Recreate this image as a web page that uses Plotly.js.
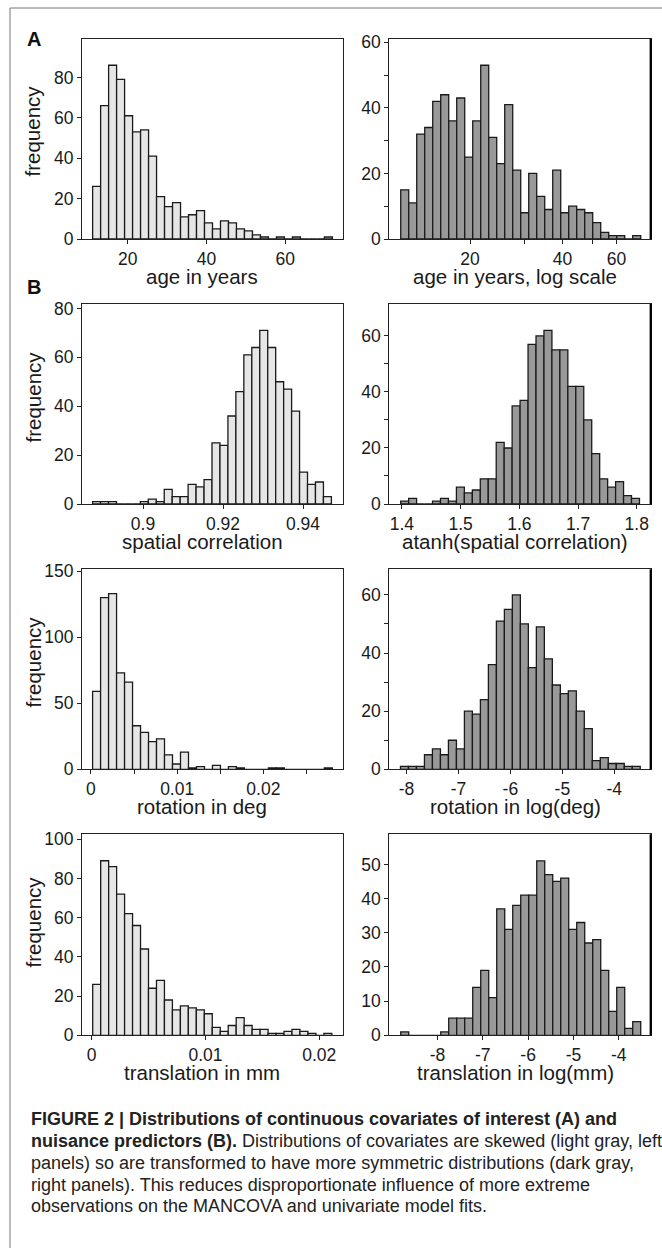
<!DOCTYPE html>
<html><head><meta charset="utf-8">
<script src="https://cdn.plot.ly/plotly-3.0.1.min.js"></script>
<style>html,body{margin:0;padding:0;background:#fff;}#chart{width:662px;height:1248px;}</style>
</head><body><div id="chart"></div>
<script>
// ---------- DATA (histogram bins: first bin left edge, bin width, counts) ----------
const ageStart = 11.1, ageWidth = 2.03;                 // years
const ageCounts = [26,66,86,79,61,53,54,41,21,16,18,11,12,14,8,5,9,8,5,4,2,1,0,1,0,1,0,0,0,1];
const ageTicks = [20,40,60];

const logAgeStart = 1.0753, logAgeWidth = 0.02606;     // log10(years)
const logAgeCounts = [15,11,32,34,42,44,36,43,25,36,53,31,23,41,21,8,20,13,9,21,8,10,9,8,5,2,1,1,0,1];
const logAgeTicks = [20,40,60];
const logAgeMinor = [30,50];

const corrStart = 0.8874, corrWidth = 0.00199;
const corrCounts = [1,1,1,0,0,0,1,2,1,6,3,3,8,7,10,25,24,36,46,61,64,71,64,50,47,38,13,8,9,3];
const corrTicks = [0.9,0.92,0.94];

const atanhStart = 1.3981, atanhWidth = 0.01355;
const atanhCounts = [1,2,0,0,1,2,1,6,4,5,9,9,22,20,35,37,57,60,62,55,55,42,42,30,18,9,6,8,3,2];
const atanhTicks = [1.4,1.5,1.6,1.7,1.8];

const rotStart = 0.00019, rotWidth = 0.000927;
const rotCounts = [59,130,133,73,66,33,28,21,23,11,4,13,1,2,0,3,0,2,1,0,0,0,1,1,0,0,0,0,0,1];
const rotTicks = [0,0.01,0.02];
const rotMinor = [0.005,0.015,0.025];

const logRotStart = -8.115, logRotWidth = 0.1538;
const logRotCounts = [1,1,1,5,7,5,10,7,20,19,24,36,51,55,60,50,35,49,38,29,26,27,20,14,3,4,2,2,1,1];
const logRotTicks = [-8,-7,-6,-5,-4];

const transStart = 0.0001, transWidth = 0.0007;
const transCounts = [26,89,86,72,62,56,44,24,28,18,13,15,14,13,11,4,2,5,9,5,3,3,1,1,2,3,2,1,0,1];
const transTicks = [0,0.01,0.02];

const logTransStart = -8.812, logTransWidth = 0.1766;
const logTransCounts = [1,0,0,0,0,1,5,5,5,14,19,11,37,31,38,41,41,51,47,45,46,31,33,27,28,19,7,14,2,4];
const logTransTicks = [-8,-7,-6,-5,-4];

const xTitles = ['age in years','age in years, log scale','spatial correlation','atanh(spatial correlation)',
                 'rotation in deg','rotation in log(deg)','translation in mm','translation in log(mm)'];
const yTitle = 'frequency';
const captionLines = [
  '<b>FIGURE 2 | Distributions of continuous covariates of interest (A) and</b>',
  '<b>nuisance predictors (B).</b> Distributions of covariates are skewed (light gray, left',
  'panels) so are transformed to have more symmetric distributions (dark gray,',
  'right panels). This reduces disproportionate influence of more extreme',
  'observations on the MANCOVA and univariate model fits.'
];

// ---------- LAYOUT ----------
const W = 662, H = 1248;
const LIGHT = '#e6e6e6', DARK = '#999999', EDGE = '#1a1a1a';
function centers(start, width, n){ const a=[]; for(let i=0;i<n;i++) a.push(start + width*(i+0.5)); return a; }
const px = v => v / W, py = v => 1 - v / H;

const colX = [[82,343],[389.3,650.7]];
const rowY = [[39,239],[304,504],[569.3,769.3],[834.3,1035.3]];

const panels = [
  {c:0,r:0,start:ageStart,width:ageWidth,counts:ageCounts,color:LIGHT,xr:[8.4,74.7],yr:[0,99],
   xt:ageTicks,xtt:ageTicks.map(String),yt:[0,20,40,60,80]},
  {c:1,r:0,start:logAgeStart,width:logAgeWidth,counts:logAgeCounts,color:DARK,xr:[1.0381,1.8896],yr:[0,61],
   xt:logAgeTicks.map(Math.log10),xtt:logAgeTicks.map(String),xminor:logAgeMinor.map(Math.log10),yt:[0,20,40,60],yminor:[10,30,50]},
  {c:0,r:1,start:corrStart,width:corrWidth,counts:corrCounts,color:LIGHT,xr:[0.88475,0.95],yr:[0,81.8],
   xt:corrTicks,xtt:['0.9','0.92','0.94'],yt:[0,20,40,60,80]},
  {c:1,r:1,start:atanhStart,width:atanhWidth,counts:atanhCounts,color:DARK,xr:[1.3787,1.8237],yr:[0,71.4],
   xt:atanhTicks,xtt:atanhTicks.map(v=>v.toFixed(1)),yt:[0,20,40,60],yminor:[10,30,50]},
  {c:0,r:2,start:rotStart,width:rotWidth,counts:rotCounts,color:LIGHT,xr:[-0.00104,0.02924],yr:[0,151.5],
   xt:rotTicks,xtt:['0','0.01','0.02'],xminor:rotMinor,yt:[0,50,100,150]},
  {c:1,r:2,start:logRotStart,width:logRotWidth,counts:logRotCounts,color:DARK,xr:[-8.33,-3.30],yr:[0,68.8],
   xt:logRotTicks,xtt:logRotTicks.map(String),yt:[0,20,40,60],yminor:[10,30,50]},
  {c:0,r:3,start:transStart,width:transWidth,counts:transCounts,color:LIGHT,xr:[-0.00084,0.02208],yr:[0,102.5],
   xt:transTicks,xtt:['0','0.01','0.02'],yt:[0,20,40,60,80,100]},
  {c:1,r:3,start:logTransStart,width:logTransWidth,counts:logTransCounts,color:DARK,xr:[-9.064,-3.294],yr:[0,58.8],
   xt:logTransTicks,xtt:logTransTicks.map(String),yt:[0,10,20,30,40,50]}
];

const tickFont = {family:'Liberation Sans, Arial, sans-serif', size:17.5, color:'#1a1a1a'};
const titleFont = {family:'Liberation Sans, Arial, sans-serif', size:20.5, color:'#1a1a1a'};
const traces = [], layout = {
  width:W, height:H, margin:{l:0,r:0,t:0,b:0}, paper_bgcolor:'#fff', plot_bgcolor:'#fff',
  showlegend:false, bargap:0, annotations:[], shapes:[]
};

panels.forEach((p,i)=>{
  const n = i+1, xs = n===1?'':n;
  traces.push({type:'bar', x:centers(p.start,p.width,p.counts.length), y:p.counts, width:p.width,
    xaxis:'x'+xs, yaxis:'y'+xs, marker:{color:p.color, line:{color:EDGE,width:1.3}}, hoverinfo:'skip'});
  const ax = {linecolor:'#222', linewidth:1, showline:true, mirror:true, ticks:'outside', ticklen:4,
    tickcolor:'#222', tickwidth:1, showgrid:false, zeroline:false, tickfont:tickFont, fixedrange:true};
  layout['xaxis'+xs] = Object.assign({}, ax, {domain:[px(colX[p.c][0]),px(colX[p.c][1])], anchor:'y'+xs,
    range:p.xr, tickmode:'array', tickvals:p.xt, ticktext:p.xtt},
    p.xminor?{minor:{tickmode:'array',tickvals:p.xminor,ticks:'outside',ticklen:4,tickcolor:'#222',showgrid:false}}:{});
  layout['yaxis'+xs] = Object.assign({}, ax, {domain:[py(rowY[p.r][1]),py(rowY[p.r][0])], anchor:'x'+xs,
    range:p.yr, tickmode:'array', tickvals:p.yt, ticktext:p.yt.map(String)},
    p.yminor?{minor:{tickmode:'array',tickvals:p.yminor,ticks:'outside',ticklen:4,tickcolor:'#222',showgrid:false}}:{});
  // x-axis title
  layout.annotations.push({xref:'paper',yref:'paper',x:px(p.c===0?202:515),y:py(rowY[p.r][1]+37),
    xanchor:'center',yanchor:'middle',showarrow:false,text:xTitles[i],font:titleFont});
  if(p.c===1){
    layout.shapes.push({type:'line',xref:'paper',yref:'paper',x0:px(colX[1][1]),x1:px(colX[1][1]),
      y0:py(rowY[p.r][1]),y1:py(rowY[p.r][0]),line:{color:'#000',width:2.2}});
  }
});
[131,397,662,922].forEach(yc=>{
  layout.annotations.push({xref:'paper',yref:'paper',x:px(32.5),y:py(yc),xanchor:'center',yanchor:'middle',
    textangle:-90,showarrow:false,text:yTitle,font:titleFont});
});
// panel letters
[['A',39],['B',287]].forEach(([t,yc])=>{
  layout.annotations.push({xref:'paper',yref:'paper',x:px(34),y:py(yc),xanchor:'center',yanchor:'middle',
    showarrow:false,text:'<b>'+t+'</b>',font:{family:'Liberation Sans, Arial, sans-serif',size:20,color:'#111'}});
});
// caption
const capY = [1119,1141,1163,1185,1206];
captionLines.forEach((t,k)=>{
  layout.annotations.push({xref:'paper',yref:'paper',x:px(29),y:py(capY[k]),xanchor:'left',yanchor:'middle',
    showarrow:false,text:t,align:'left',font:{family:'Liberation Sans Narrow, Arial Narrow, sans-serif',size:18,color:'#222'}});
});
// figure frame
layout.shapes.push({type:'line',xref:'paper',yref:'paper',x0:px(10),x1:px(10),y0:py(8),y1:0,line:{color:'#777',width:1}});
layout.shapes.push({type:'line',xref:'paper',yref:'paper',x0:px(10),x1:1,y0:py(8),y1:py(8),line:{color:'#777',width:1}});

Plotly.newPlot('chart', traces, layout, {staticPlot:true, displayModeBar:false});
</script></body></html>
